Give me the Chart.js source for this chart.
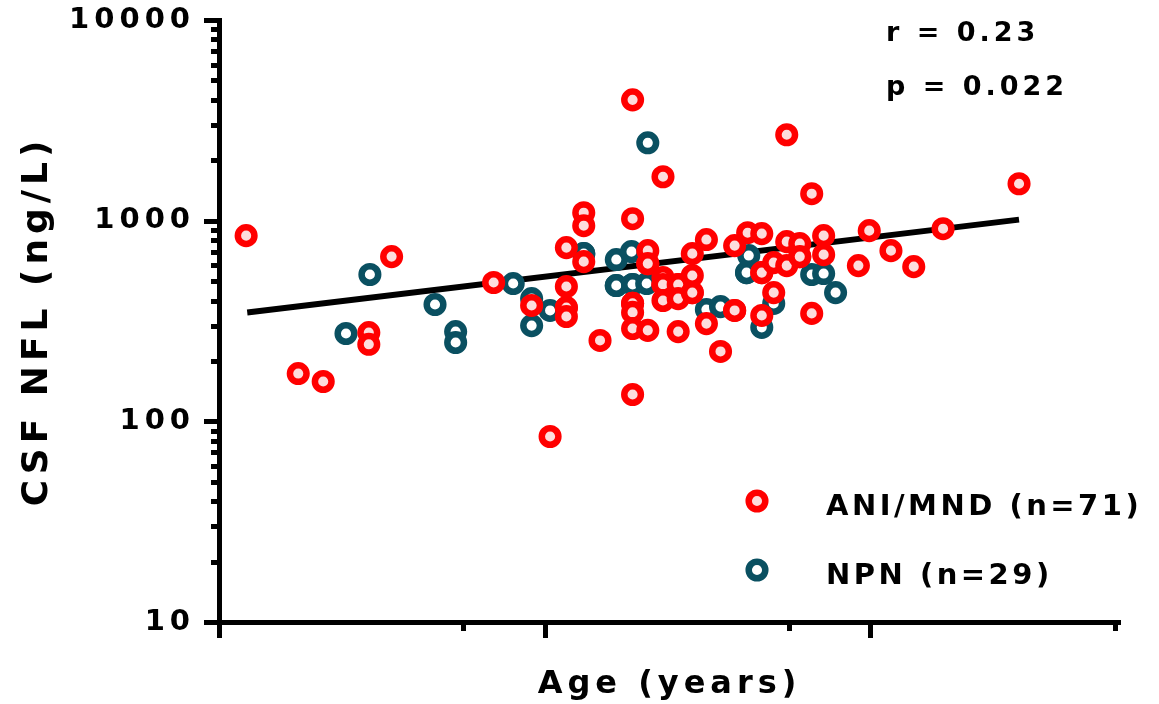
<!DOCTYPE html>
<html>
<head>
<meta charset="utf-8">
<script src="https://cdn.jsdelivr.net/npm/chart.js@4.4.1/dist/chart.umd.min.js"></script>
<style>
  html, body { margin: 0; padding: 0; background: #fff; }
  canvas { display: block; }
</style>
</head>
<body>
<canvas id="c" width="1159" height="704"></canvas>
<script>
// ANI/MND group: age (years) and CSF NfL (ng/L)
const aniAge = [58.1, 60.9, 62.3, 63.6, 59.5, 52.0, 70.0, 73.5, 67.5,
  22.5, 27.3, 29.6, 33.8, 33.8, 35.9, 45.3, 48.8, 50.5, 52.0, 52.0, 52.0, 52.0,
  53.6, 53.6, 53.6, 55.1, 58.1, 58.1, 58.1, 58.1, 58.1, 58.1, 59.5, 59.5, 59.5,
  60.9, 60.9, 60.9, 60.9, 62.3, 62.3, 62.3, 63.6, 63.6, 63.6, 64.9, 64.9, 66.2,
  67.5, 67.5, 68.7, 70.0, 70.0, 70.0, 71.1, 71.1, 72.3, 72.3, 72.3, 73.5, 73.5,
  74.6, 74.6, 75.7, 75.7, 78.9, 79.9, 81.9, 84.0, 86.7, 93.7];
const aniNfl = [387, 481, 481, 438, 611, 369, 551, 662, 357,
  842, 173, 158, 277, 242, 662, 492, 378, 84, 734, 470, 369, 333,
  1096, 944, 625, 253, 4000, 1023, 387, 349, 290, 136, 709, 611, 284,
  1656, 521, 481, 400, 481, 409, 280, 685, 533, 438, 805, 307, 223,
  751, 357, 871, 862, 551, 337, 618, 438, 2679, 786, 597, 768, 662,
  1363, 345, 842, 677, 597, 892, 709, 590, 912, 1528];

// NPN group
const npnAge = [58.1, 56.6, 68.6, 53.6,
  31.7, 33.9, 39.9, 41.8, 41.8, 47.1, 48.8, 48.8, 50.5, 53.6, 56.6, 58.0, 56.6,
  58.1, 59.4, 59.5, 64.9, 66.2, 68.6, 68.8, 70.0, 71.1, 74.6, 75.7, 76.8];
const npnNfl = [481, 475, 551, 685,
  274, 539, 382, 280, 247, 486, 409, 300, 357, 685, 640, 701, 475,
  481, 486, 2443, 361, 373, 551, 670, 294, 387, 539, 545, 438];

// Log-linear regression line end points
const fitAge = [22.6, 93.7];
const fitNfl = [349, 1012];

// Axis ticks
const yMajorTicks = [10, 100, 1000, 10000];
const yMinorTicks = [20, 30, 40, 50, 60, 70, 80, 90,
  200, 300, 400, 500, 600, 700, 800, 900,
  2000, 3000, 4000, 5000, 6000, 7000, 8000, 9000];
const xMajorTicks = [20, 50, 80];
const xMinorTicks = [42.5, 72.5, 102.5];

const legendLabels = ['ANI/MND (n=71)', 'NPN (n=29)'];
const statLines = ['r = 0.23', 'p = 0.022'];

const FONT = "'DejaVu Sans', 'Liberation Sans', sans-serif";
const SPACING = '5px';

const toPoints = (xs, ys) => xs.map((x, i) => ({ x, y: ys[i] }));

const spacingPlugin = {
  id: 'spacing',
  beforeDraw(chart) { chart.ctx.letterSpacing = SPACING; }
};

const axisTicksPlugin = {
  id: 'axisTicks',
  afterDraw(chart) {
    const { ctx, scales: { x, y } } = chart;
    const w = 5;
    const left = Math.round(chart.chartArea.left) + 0.5;
    const bottom = Math.round(chart.chartArea.bottom) + 0.5;
    ctx.save();
    ctx.strokeStyle = '#000';
    ctx.lineWidth = w;
    ctx.lineCap = 'butt';
    ctx.beginPath();
    const yTick = (v, len) => {
      const py = Math.round(y.getPixelForValue(v)) + 0.5;
      ctx.moveTo(left + w / 2, py);
      ctx.lineTo(left - w / 2 - len, py);
    };
    const xTick = (v, len) => {
      const px = Math.round(x.getPixelForValue(v)) + 0.5;
      ctx.moveTo(px, bottom - w / 2);
      ctx.lineTo(px, bottom + w / 2 + len);
    };
    yMajorTicks.forEach(v => yTick(v, 13));
    yMinorTicks.forEach(v => yTick(v, 6));
    xMajorTicks.forEach(v => xTick(v, 13));
    xMinorTicks.forEach(v => xTick(v, 6));
    ctx.stroke();
    ctx.restore();
  }
};

const annotationPlugin = {
  id: 'annotations',
  afterDraw(chart) {
    const { ctx } = chart;
    ctx.save();
    ctx.fillStyle = '#000';
    ctx.textBaseline = 'middle';
    ctx.textAlign = 'left';
    ctx.letterSpacing = '4px';
    // correlation statistics
    ctx.font = `bold 27px ${FONT}`;
    statLines.forEach((t, i) => ctx.fillText(t, 886, 34 + i * 54));
    // legend
    ctx.font = `bold 29px ${FONT}`;
    ctx.letterSpacing = '3.5px';
    chart.data.datasets.slice(0, 2).forEach((ds, i) => {
      const cy = 501 + i * 69;
      ctx.beginPath();
      ctx.arc(757, cy, ds.pointRadius, 0, Math.PI * 2);
      ctx.fillStyle = ds.pointBackgroundColor;
      ctx.fill();
      ctx.lineWidth = ds.pointBorderWidth;
      ctx.strokeStyle = ds.pointBorderColor;
      ctx.stroke();
      ctx.fillStyle = '#000';
      ctx.fillText(legendLabels[i], 826, cy + 6);
    });
    ctx.restore();
  }
};

Chart.defaults.color = '#000';
Chart.defaults.font.family = FONT;

new Chart(document.getElementById('c'), {
  type: 'scatter',
  data: {
    datasets: [
      {
        label: legendLabels[0],
        data: toPoints(aniAge, aniNfl),
        pointRadius: 8.3,
        pointBorderWidth: 6.5,
        pointBorderColor: '#ff0000',
        pointBackgroundColor: '#fddcdc',
        order: 1
      },
      {
        label: legendLabels[1],
        data: toPoints(npnAge, npnNfl),
        pointRadius: 8.3,
        pointBorderWidth: 6.5,
        pointBorderColor: '#0a5061',
        pointBackgroundColor: '#ffffff',
        order: 2
      },
      {
        label: 'fit',
        data: toPoints(fitAge, fitNfl),
        showLine: true,
        borderColor: '#000',
        borderWidth: 6,
        pointRadius: 0,
        order: 3
      }
    ]
  },
  options: {
    responsive: false,
    animation: false,
    events: [],
    layout: { padding: { top: 20, right: 39, left: 0, bottom: 0 } },
    plugins: { legend: { display: false }, tooltip: { enabled: false } },
    scales: {
      x: {
        type: 'linear',
        min: 20,
        max: 103,
        grid: { display: false },
        border: { display: true, width: 5, color: '#000' },
        ticks: { display: false },
        title: {
          display: true,
          text: 'Age (years)',
          font: { size: 32, weight: 'bold', family: FONT },
          padding: { top: 0, bottom: 0 }
        },
        afterFit(s) { s.height = 82; s.paddingLeft = 0; s.paddingRight = 0; }
      },
      y: {
        type: 'logarithmic',
        min: 10,
        max: 10000,
        grid: { display: false, drawTicks: false },
        border: { display: true, width: 5, color: '#000' },
        afterBuildTicks(s) { s.ticks = yMajorTicks.map(v => ({ value: v })); },
        ticks: {
          padding: 24,
          font: { size: 29, weight: 'bold', family: FONT },
          callback: v => String(v)
        },
        title: {
          display: true,
          text: 'CSF NFL (ng/L)',
          font: { size: 36, weight: 'bold', family: FONT },
          padding: { top: 16, bottom: 0 }
        },
        afterFit(s) { s.width = 219; s.paddingTop = 0; s.paddingBottom = 0; }
      }
    }
  },
  plugins: [spacingPlugin, axisTicksPlugin, annotationPlugin]
});
</script>
</body>
</html>
